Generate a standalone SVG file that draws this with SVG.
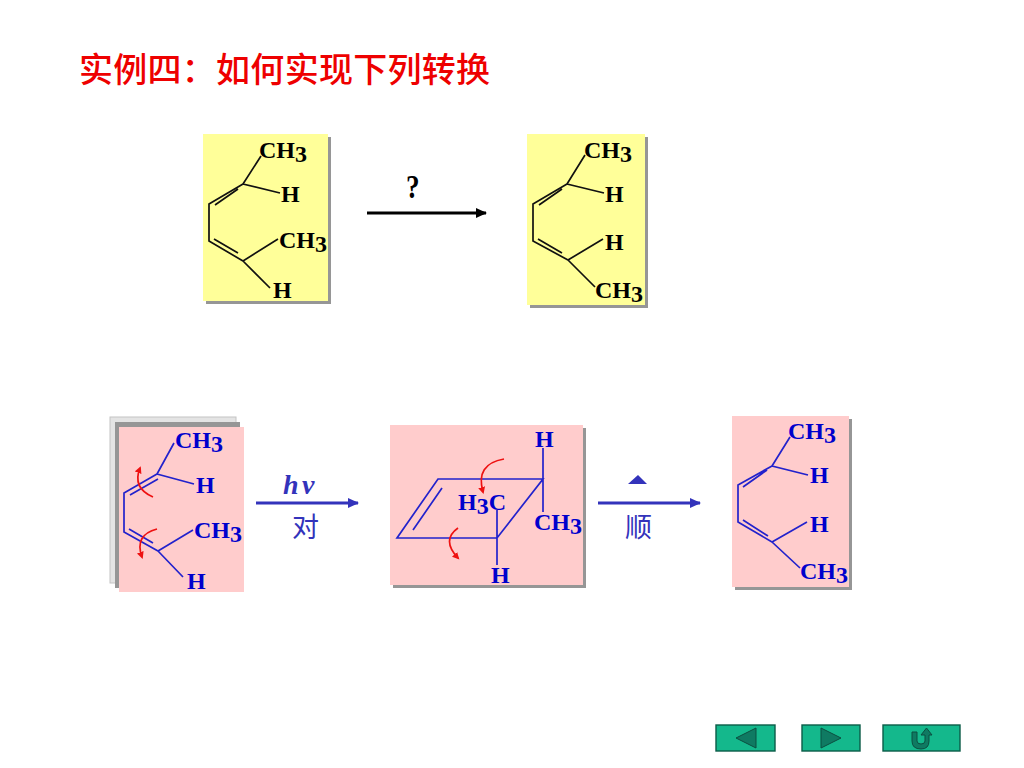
<svg xmlns="http://www.w3.org/2000/svg" width="1024" height="768" viewBox="0 0 1024 768">
<style>
text{font-family:"Liberation Serif","Noto Sans CJK SC",serif;font-weight:700;font-size:24px}
.k text{fill:#000}.b text{fill:#0000cc}
.k path{fill:none;stroke:#111;stroke-width:1.7}
.b path{fill:none;stroke:#2222cc;stroke-width:1.7}
.r{fill:none;stroke:#ee1111;stroke-width:1.6;marker-end:url(#rh)}
.y{fill:#ffff99}.p{fill:#ffcccc}.s{fill:#969696}
.cn{font-family:"Noto Sans CJK SC",sans-serif;font-weight:400;font-size:27px;fill:#3333bb}
.nb{fill:#14b88c;stroke:#0b5c48;stroke-width:1.4}
.ng{fill:#0f7a62;stroke:#0b4f40;stroke-width:1}
</style>
<defs>
<marker id="rh" markerWidth="9" markerHeight="9" refX="5" refY="3.5" orient="auto" markerUnits="userSpaceOnUse"><path d="M0 0L7 3.5L0 7Z" fill="#ee1111"/></marker>
<marker id="ka" markerWidth="14" markerHeight="12" refX="10" refY="5" orient="auto" markerUnits="userSpaceOnUse"><path d="M0 0L11 5L0 10Z" fill="#000"/></marker>
<marker id="ba" markerWidth="14" markerHeight="12" refX="10" refY="5" orient="auto" markerUnits="userSpaceOnUse"><path d="M0 0L11 5L0 10Z" fill="#3333bb"/></marker>
</defs>
<rect width="1024" height="768" fill="#fff"/>
<text id="title" x="79" y="82" textLength="411" style="font-family:'Noto Sans CJK SC',sans-serif;font-weight:500;font-size:34px" fill="#ee0000">实例四：如何实现下列转换</text>

<g id="reactant" class="k">
<rect class="s" x="206" y="137" width="125" height="167"/><rect class="y" x="203" y="134" width="125" height="167"/>
<path d="M261 156L243 184L280 193M243 184L209 204V241L243 261L278 239M243 261L270 288M238 189L215 205M214 239L238 253"/>
<text x="259" y="158">CH<tspan dy="4">3</tspan></text><text x="281" y="202">H</text>
<text x="279" y="248">CH<tspan dy="4">3</tspan></text><text x="273" y="298">H</text>
</g>

<g id="product" class="k">
<rect class="s" x="530" y="137" width="118" height="171"/><rect class="y" x="527" y="134" width="118" height="171"/>
<path d="M585 155L567 184L604 193M567 184L533 204V241L568 260L603 239M568 260L595 287M562 189L539 205M538 239L562 253"/>
<text x="584" y="158">CH<tspan dy="4">3</tspan></text><text x="605" y="202">H</text>
<text x="605" y="250">H</text><text x="595" y="298">CH<tspan dy="4">3</tspan></text>
</g>

<g id="step1" class="b">
<rect x="110" y="417" width="126" height="166" fill="#e4e4e4" stroke="#c4c4c4"/>
<rect class="s" x="115" y="422" width="125" height="166"/><rect class="p" x="119" y="427" width="125" height="165"/>
<path d="M174 443L157 474L194 484M157 474L124 493V532L158 551L193 530M158 551L183 577M158 479L130 495M129 529L153 543"/>
<path class="r" style="stroke:#ee1111;marker-end:url(#rh)" d="M153 497Q132 488 140 468"/>
<path class="r" style="stroke:#ee1111;marker-end:url(#rh)" d="M157 529Q134 535 142 557"/>
<text x="175" y="448">CH<tspan dy="4">3</tspan></text><text x="196" y="493">H</text>
<text x="194" y="538">CH<tspan dy="4">3</tspan></text><text x="187" y="589">H</text>
</g>

<g id="step2" class="b">
<rect class="s" x="393" y="428" width="193" height="160"/><rect class="p" x="390" y="425" width="193" height="160"/>
<path d="M438 479H543L497 538H397ZM442 488L413 530M543 448V512M497 510V565"/>
<path class="r" style="stroke:#ee1111;marker-end:url(#rh)" d="M504 459Q475 464 483 492"/>
<path class="r" style="stroke:#ee1111;marker-end:url(#rh)" d="M458 528Q441 540 458 558"/>
<text x="535" y="447">H</text><text x="458" y="510">H<tspan dy="4">3</tspan><tspan dy="-4">C</tspan></text>
<text x="534" y="530">CH<tspan dy="4">3</tspan></text><text x="491" y="583">H</text>
</g>

<g id="step3" class="b">
<rect class="s" x="735" y="419" width="117" height="171"/><rect class="p" x="732" y="416" width="117" height="171"/>
<path d="M790 437L772 466L808 475M772 466L738 485V522L772 542L807 522M772 542L800 568M767 470L743 487M743 520L768 536"/>
<text x="788" y="439">CH<tspan dy="4">3</tspan></text><text x="810" y="483">H</text>
<text x="810" y="532">H</text><text x="800" y="579">CH<tspan dy="4">3</tspan></text>
</g>

<g id="connectors">
<path d="M367 213H486" stroke="#000" stroke-width="3" fill="none" marker-end="url(#ka)"/>
<path d="M256 503H358" stroke="#3333bb" stroke-width="3" fill="none" marker-end="url(#ba)"/>
<path d="M598 503H700" stroke="#3333bb" stroke-width="3" fill="none" marker-end="url(#ba)"/>
</g>

<g id="labels">
<text transform="translate(406 198) scale(.8 1)" style="font-size:34px;font-weight:700" fill="#000">?</text>
<text x="283" y="494" style="font-size:28px;font-style:italic" fill="#3333bb">h</text>
<text x="302" y="494" style="font-size:28px;font-style:italic" fill="#3333bb">ν</text>
<text class="cn" x="292" y="537">对</text>
<path d="M628 484H647L638 475Z" fill="#3333bb"/>
<text class="cn" x="625" y="537">顺</text>
</g>

<g id="nav-prev"><rect class="nb" x="716" y="725" width="59" height="26"/><path class="ng" d="M736 738L756 728V748Z"/></g>
<g id="nav-next"><rect class="nb" x="802" y="725" width="58" height="26"/><path class="ng" d="M821 728V748L841 738Z"/></g>
<g id="nav-return"><rect class="nb" x="883" y="725" width="77" height="26"/><path class="ng" d="M912 732H917V741Q917 744 921 744Q925 744 925 741V735H921L926.500 728L932 735H929V741Q929 749 921 749Q912 749 912 741Z"/></g>
</svg>
